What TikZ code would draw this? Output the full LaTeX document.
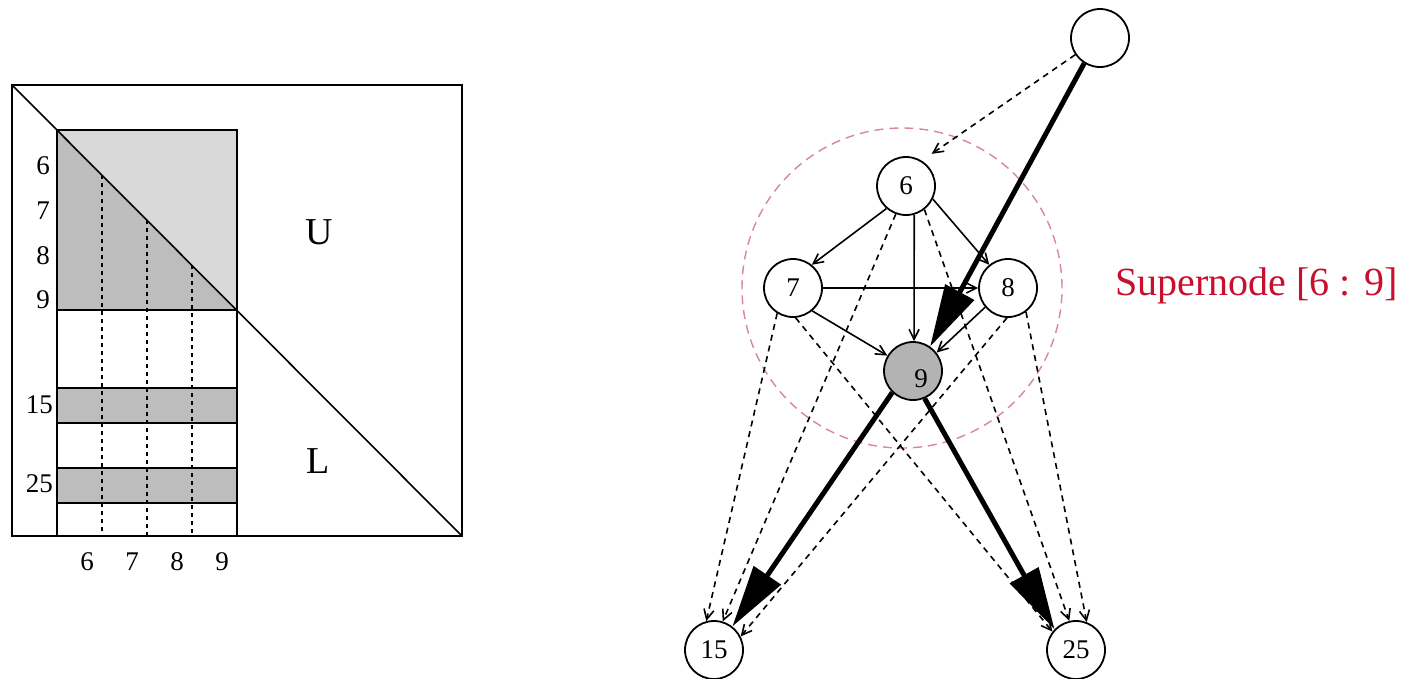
\documentclass[tikz,border=0pt]{standalone}
\usepackage{fontspec}
\setmainfont{Liberation Serif}
\usetikzlibrary{arrows.meta}
\definecolor{lightgr}{HTML}{D9D9D9}
\definecolor{darkgr}{HTML}{BDBDBD}
\definecolor{nodegr}{HTML}{B3B3B3}
\definecolor{superred}{HTML}{C8102E}
\definecolor{ringred}{HTML}{D98890}
\begin{document}
\begin{tikzpicture}[x=1pt,y=-1pt,
  vnode/.style={circle,draw,line width=1.8pt,minimum size=58pt,inner sep=0pt,font=\fontsize{27}{29}\selectfont},
  thinarrow/.style={line width=1.6pt,-{Straight Barb[length=10pt,width=10pt]}},
  dasharrow/.style={thinarrow,dash pattern=on 6pt off 5pt},
  thickarrow/.style={line width=5pt,-{Triangle[length=62pt,width=32pt]}},
  lab/.style={font=\fontsize{27}{29}\selectfont, inner sep=0pt},
  big/.style={font=\fontsize{38}{40}\selectfont, inner sep=0pt},
  frame/.style={line width=2.2pt},
  dotl/.style={line width=1.6pt, dash pattern=on 4pt off 4pt}
]
\useasboundingbox (0,0) rectangle (1404,678);
% ---------- left: matrix ----------
\fill[lightgr] (57,130) -- (237,130) -- (237,310) -- cycle;
\fill[darkgr] (57,130) -- (57,310) -- (237,310) -- cycle;
\fill[darkgr] (57,388) rectangle (237,423);
\fill[darkgr] (57,468) rectangle (237,503);
\draw[dotl] (102,175) -- (102,536);
\draw[dotl] (147,220) -- (147,536);
\draw[dotl] (192,265) -- (192,536);
\draw[frame] (57,388) rectangle (237,423);
\draw[frame] (57,468) rectangle (237,503);
\draw[frame] (57,310) -- (237,310);
\draw[frame] (57,130) rectangle (237,536);
\draw[frame] (12,85) rectangle (462,536);
\draw[line width=1.6pt] (12,85) -- (462,536);
\node[lab, anchor=east] (r6) at (50,166) {6};
\node[lab, anchor=east] (r7) at (50,211) {7};
\node[lab, anchor=east] (r8) at (50,256) {8};
\node[lab, anchor=east] (r9) at (50,300) {9};
\node[lab, anchor=east] (r15) at (53,405) {15};
\node[lab, anchor=east] (r25) at (53,484) {25};
\node[lab] (c6) at (87,562) {6};
\node[lab] (c7) at (132,562) {7};
\node[lab] (c8) at (177,562) {8};
\node[lab] (c9) at (222,562) {9};
\node[big] (U) at (319,232) {U};
\node[big] (L) at (318,461) {L};
% ---------- right: graph ----------
\node[circle, draw=ringred, line width=1.4pt, dash pattern=on 9pt off 6pt, minimum size=320pt, inner sep=0pt] (ring) at (902,288) {};
\node[font=\fontsize{40}{44}\selectfont, text=superred, anchor=west, inner sep=0pt] (sn) at (1115,286) {Supernode [6 : 9]};
\node[vnode] (T) at (1100,38) {};
\node[vnode] (n6) at (906,186) {6};
\node[vnode] (n7) at (793,288) {7};
\node[vnode] (n8) at (1008,288) {8};
\node[vnode, fill=nodegr] (n9) at (913,371) {};
\node[lab] (n9lab) at (921,379) {9};
\node[vnode] (n15) at (714,650) {15};
\node[vnode] (n25) at (1076,650) {25};
% dashed
\draw[dasharrow, shorten >=12pt] (T.214) -- (n6.58);
\draw[dasharrow] (n6.250) -- (n15.73);
\draw[dasharrow] (n6.308) -- (n25.103);
\draw[dasharrow] (n7.238) -- (n15.105);
\draw[dasharrow] (n7.275) -- (n25.142);
\draw[dasharrow] (n8.268) -- (n15.27);
\draw[dasharrow] (n8.307) -- (n25.69);
% thin solid
\draw[thinarrow] (n6.229) -- (n7.51);
\draw[thinarrow] (n6.334) -- (n8.129);
\draw[thinarrow] (n6.286) -- (n9.88);
\draw[thinarrow] (n7.east) -- (n8.west);
\draw[thinarrow] (n7.310) -- (n9.149);
\draw[thinarrow] (n8.220) -- (n9.38);
% thick
\draw[thickarrow] (T.238) -- (n9.55);
\draw[thickarrow] (n9.226) -- (n15.52);
\draw[thickarrow] (n9.293) -- (n25.136);
\end{tikzpicture}
\end{document}
